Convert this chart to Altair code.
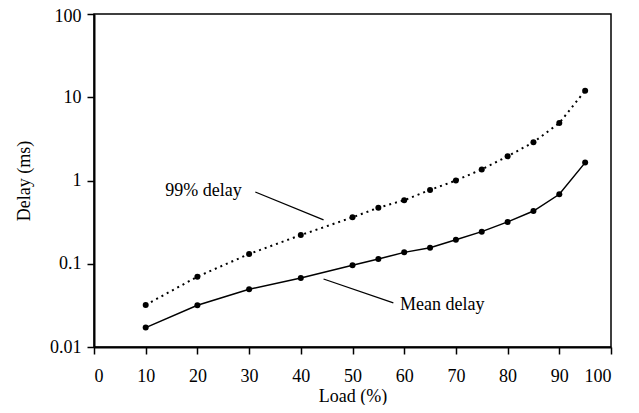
import altair as alt
import pandas as pd

load = [10, 20, 30, 40, 50, 55, 60, 65, 70, 75, 80, 85, 90, 95]
p99_delay = [0.032, 0.070, 0.131, 0.221, 0.361, 0.471, 0.58, 0.77, 1.0, 1.36, 1.95, 2.88, 4.9, 12.0]
mean_delay = [0.0171, 0.0317, 0.0493, 0.0674, 0.0957, 0.114, 0.137, 0.156, 0.194, 0.243, 0.318, 0.43, 0.683, 1.64]

x_ticks = [0, 10, 20, 30, 40, 50, 60, 70, 80, 90, 100]
y_ticks = [0.01, 0.1, 1, 10, 100]

label_names = ["99% delay", "Mean delay"]
label_x = [13.8, 59.2]
label_y = [0.656, 0.0278]
leader_x = [31.2, 44.4]
leader_y = [0.728, 0.0656]
leader_x2 = [44.4, 57.9]
leader_y2 = [0.336, 0.0338]

df_p99 = pd.DataFrame({"load": load, "delay": p99_delay})
df_mean = pd.DataFrame({"load": load, "delay": mean_delay})
df_lab = pd.DataFrame({"name": label_names, "x": label_x, "y": label_y})
df_lead = pd.DataFrame({"x": leader_x, "y": leader_y, "x2": leader_x2, "y2": leader_y2})

FONT = "Liberation Serif"
FS = 18

xs = alt.Scale(domain=[0, 100], nice=False, zero=False)
ys = alt.Scale(type="log", domain=[0.01, 100], nice=False)

xaxis = alt.Axis(values=x_ticks, title="Load (%)", grid=False, tickSize=7,
                 labelPadding=13, titleY=54, titleBaseline="alphabetic")
yaxis = alt.Axis(values=y_ticks, title="Delay (ms)", grid=False, tickSize=7,
                 labelExpr="format(datum.value, '~g')", labelPadding=6,
                 labelOffset={"condition": {"test": "datum.value >= 100", "value": 2}, "value": 0},
                 titleX=-65, titleBaseline="alphabetic")

X = alt.X("load:Q", scale=xs, axis=xaxis)
Y = alt.Y("delay:Q", scale=ys, axis=yaxis)

p99_line = alt.Chart(df_p99).mark_line(color="black", strokeWidth=2, strokeDash=[2, 4]).encode(x=X, y=Y)
p99_pts = alt.Chart(df_p99).mark_circle(color="black", size=36, opacity=1).encode(x=X, y=Y)
mean_line = alt.Chart(df_mean).mark_line(color="black", strokeWidth=1.5).encode(x=X, y=Y)
mean_pts = alt.Chart(df_mean).mark_circle(color="black", size=36, opacity=1).encode(x=X, y=Y)

leaders = alt.Chart(df_lead).mark_rule(color="black", strokeWidth=1.3).encode(
    x=alt.X("x:Q", scale=xs), y=alt.Y("y:Q", scale=ys), x2="x2:Q", y2="y2:Q")

labels = alt.Chart(df_lab).mark_text(align="left", baseline="alphabetic", font=FONT,
                                     fontSize=FS, color="black").encode(
    x=alt.X("x:Q", scale=xs), y=alt.Y("y:Q", scale=ys), text="name:N")

chart = alt.layer(p99_line, mean_line, p99_pts, mean_pts, leaders, labels).properties(
    width=517, height=333,
    background="white",
    padding={"left": 86, "top": 6, "right": 20, "bottom": 58},
    autosize=alt.AutoSizeParams(type="none"),
).configure_view(stroke="black", strokeWidth=1.5).configure_axis(
    domainColor="black", domainWidth=2, tickColor="black", tickWidth=1.5,
    labelFont=FONT, titleFont=FONT, labelFontSize=FS, titleFontSize=FS,
    labelColor="black", titleColor="black", titleFontWeight="normal",
)

chart.save("out.html", embed_options={"renderer": "svg", "actions": False})
